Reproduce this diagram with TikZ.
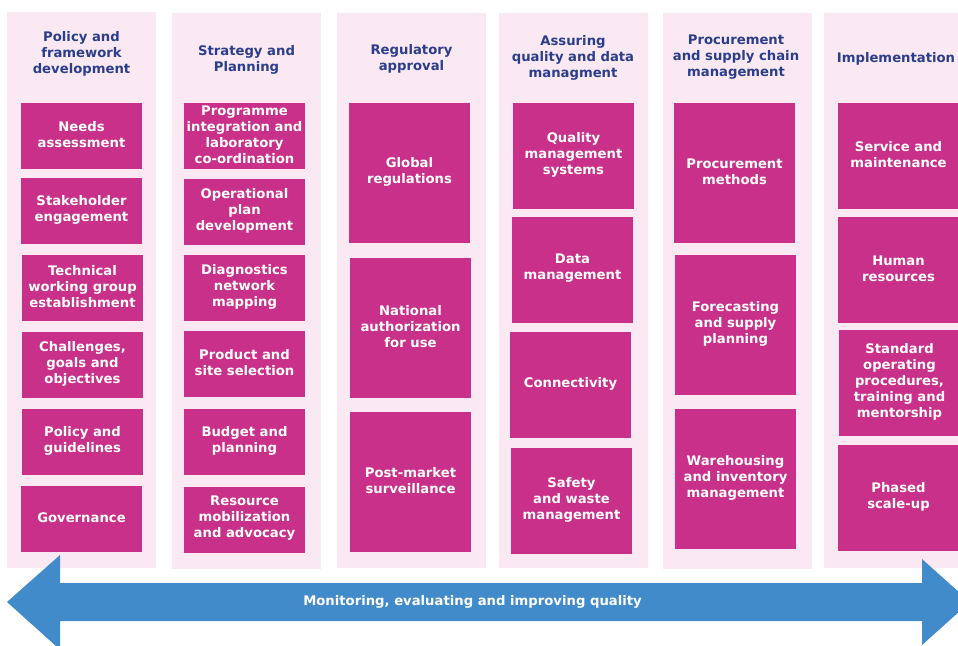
\documentclass[tikz,border=0pt]{standalone}
\usepackage{fontspec}
\setmainfont{DejaVu Sans}
\definecolor{pinkbox}{RGB}{200,48,138}
\definecolor{pinkbg}{RGB}{250,232,243}
\definecolor{titleblue}{RGB}{43,62,140}
\definecolor{arrowblue}{RGB}{66,139,202}
\tikzset{
  boxtext/.style={inner sep=0pt, align=center, text=white,
    font=\fontsize{13.2}{16}\selectfont\bfseries},
  pbox/.style={fill=pinkbox, draw=none, inner sep=0pt},
  colbg/.style={fill=pinkbg, draw=none, inner sep=0pt},
  coltitle/.style={inner sep=0pt, align=center, text=titleblue,
    font=\fontsize{13.2}{16}\selectfont\bfseries},
  arrowtext/.style={inner sep=0pt, text=white, font=\fontsize{13.2}{16}\selectfont\bfseries},
  bigarrow/.style={fill=arrowblue, draw=none}
}
\newcommand\bx[7]{\node[#2, minimum width={(#5-#3)*1pt}, minimum height={(#6-#4)*1pt},
  label={[boxtext, yshift=1.5pt]center:{#7}}] (#1) at ({(#3+#5)/2},{(#4+#6)/2}) {};}
\begin{document}
\begin{tikzpicture}[x=1pt,y=-1pt]
\useasboundingbox (0,0) rectangle (958,645);
\clip (0,0) rectangle (958,645);
\fill[white] (0,0) rectangle (958,645);
% column backgrounds
\bx{c1}{colbg}{7}{12}{156}{568}{}
\bx{c2}{colbg}{172}{13}{321}{569}{}
\bx{c3}{colbg}{337}{13}{486}{568}{}
\bx{c4}{colbg}{499}{13}{648}{568}{}
\bx{c5}{colbg}{663}{13}{812}{569}{}
\bx{c6}{colbg}{824}{13}{973}{568}{}
% titles
\node[coltitle] (t1) at (81.5,54) {Policy and\\framework\\development};
\node[coltitle] (t2) at (246.5,59.5) {Strategy and\\Planning};
\node[coltitle] (t3) at (411.5,59.3) {Regulatory\\approval};
\node[coltitle] (t4) at (573,58.3) {Assuring\\quality and data\\managment};
\node[coltitle] (t5) at (736,57.3) {Procurement\\and supply chain\\management};
\node[coltitle] (t6) at (896,59.3) {Implementation};
% column 1
\bx{b11}{pbox}{21}{103}{142}{169}{Needs\\assessment}
\bx{b12}{pbox}{21}{178}{142}{244}{Stakeholder\\engagement}
\bx{b13}{pbox}{22}{255}{143}{321}{Technical\\working group\\establishment}
\bx{b14}{pbox}{22}{332}{143}{398}{Challenges,\\goals and\\objectives}
\bx{b15}{pbox}{22}{409}{143}{475}{Policy and\\guidelines}
\bx{b16}{pbox}{21}{486}{142}{552}{Governance}
% column 2
\bx{b21}{pbox}{184}{103}{305}{169}{Programme\\integration and\\laboratory\\co-ordination}
\bx{b22}{pbox}{184}{179}{305}{245}{Operational\\plan\\development}
\bx{b23}{pbox}{184}{255}{305}{321}{Diagnostics\\network\\mapping}
\bx{b24}{pbox}{184}{331}{305}{397}{Product and\\site selection}
\bx{b25}{pbox}{184}{409}{305}{475}{Budget and\\planning}
\bx{b26}{pbox}{184}{487}{305}{553}{Resource\\mobilization\\and advocacy}
% column 3
\bx{b31}{pbox}{349}{103}{470}{243}{Global\\regulations}
\bx{b32}{pbox}{350}{258}{471}{398}{National\\authorization\\for use}
\bx{b33}{pbox}{350}{412}{471}{552}{Post-market\\surveillance}
% column 4
\bx{b41}{pbox}{513}{103}{634}{209}{Quality\\management\\systems}
\bx{b42}{pbox}{512}{217}{633}{323}{Data\\management}
\bx{b43}{pbox}{510}{332}{631}{438}{Connectivity}
\bx{b44}{pbox}{511}{448}{632}{554}{Safety\\and waste\\management}
% column 5
\bx{b51}{pbox}{674}{103}{795}{243}{Procurement\\methods}
\bx{b52}{pbox}{675}{255}{796}{395}{Forecasting\\and supply\\planning}
\bx{b53}{pbox}{675}{409}{796}{549}{Warehousing\\and inventory\\management}
% column 6
\bx{b61}{pbox}{838}{103}{959}{209}{Service and\\maintenance}
\bx{b62}{pbox}{838}{217}{959}{323}{Human\\resources}
\bx{b63}{pbox}{839}{330}{960}{436}{Standard\\operating\\procedures,\\training and\\mentorship}
\bx{b64}{pbox}{838}{445}{959}{551}{Phased\\scale-up}
% double arrow
\fill[bigarrow] (7,602) -- (60,555) -- (60,583) -- (922,583) -- (922,559)
  -- (970,602) -- (922,645) -- (922,621) -- (60,621) -- (60,649.6) -- cycle;
\node[arrowtext] (arrowlabel) at (472.5,602) {Monitoring, evaluating and improving quality};
\end{tikzpicture}
\end{document}
